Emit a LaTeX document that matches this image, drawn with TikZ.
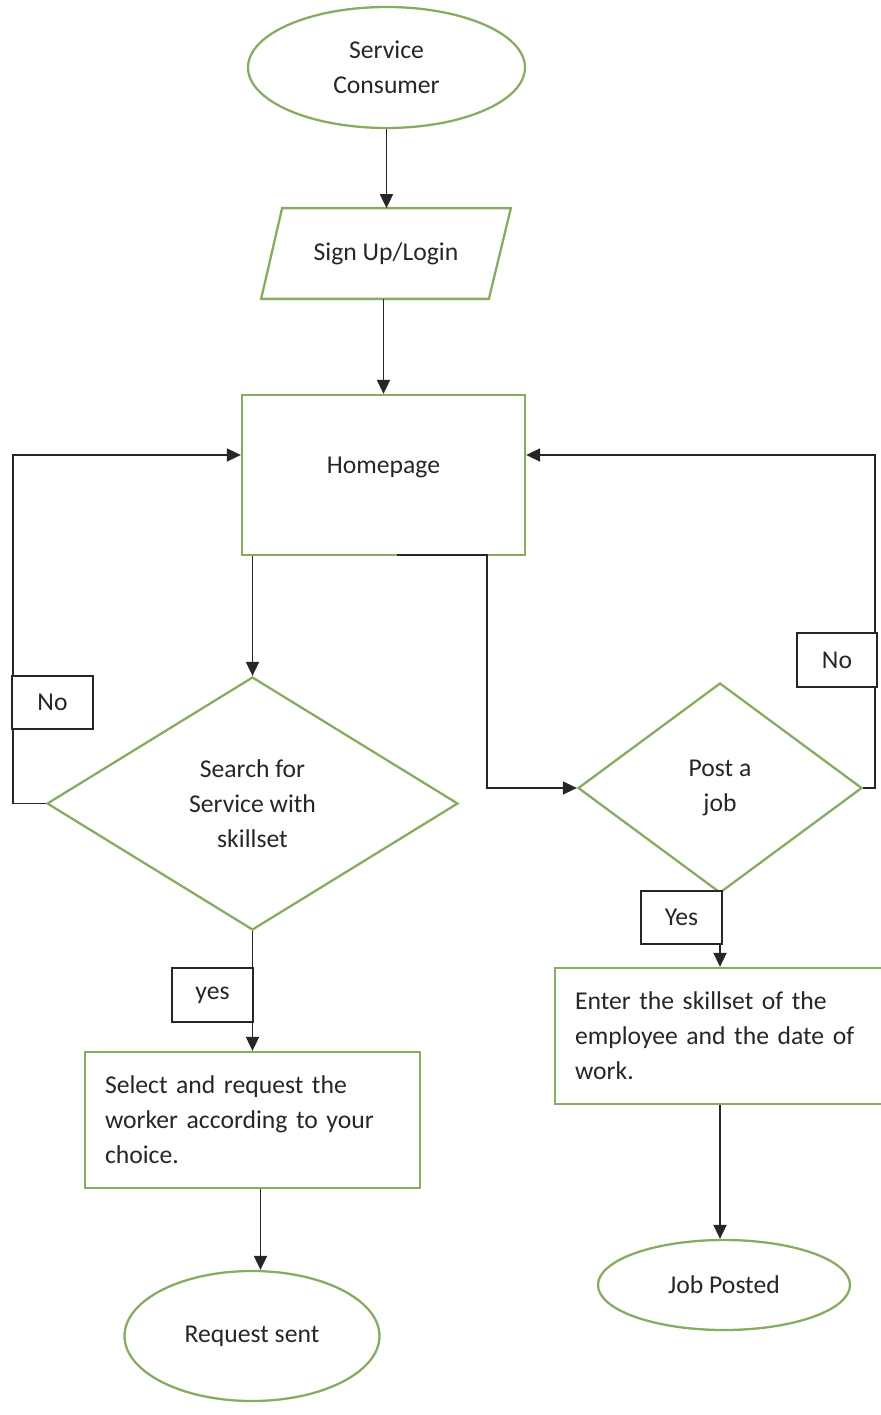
\documentclass[tikz,border=0pt]{standalone}
\usepackage{fontspec}
\setmainfont{Carlito}
\usepackage{tikz}
\usetikzlibrary{arrows.meta, positioning, shapes.geometric, calc}
\definecolor{khung}{RGB}{135,172,95}
\definecolor{chu}{RGB}{38,38,38}

\begin{document}
\begin{tikzpicture}[>={Triangle[length=1.4mm, width=1.3mm]}, line width=0.5pt,
    font=\fontsize{7.3}{10}\selectfont, text=chu,
    terminal/.style={ellipse, draw=khung, line width=0.65pt, align=center, inner sep=0pt},
    process/.style={rectangle, draw=khung, line width=0.65pt, inner sep=0pt},
    textbox/.style={rectangle, draw=khung, line width=0.65pt, align=left, inner xsep=0.2cm, inner ysep=0pt, minimum height=1.36cm},
    decision/.style={diamond, draw=khung, line width=0.65pt, align=center, inner sep=0pt},
    answer/.style={rectangle, draw=black!85, line width=0.6pt, inner sep=0pt, minimum width=0.81cm, minimum height=0.53cm},
    flow/.style={->, black!85}]
    \useasboundingbox (0,0) rectangle (8.81,-14.15);

    % Khoi bat dau va dang nhap
    \node at (3.865,-0.675) [terminal, minimum width=2.77cm, minimum height=1.21cm] (consumer) {Service\\Consumer};
    \node at (3.86,-2.535) [rectangle, minimum width=2.48cm, minimum height=0.89cm] (login) {Sign Up/Login};
    \draw[khung, line width=0.65pt] (login.south west) -- ([xshift=-0.22cm]login.south east)
        -- (login.north east) -- ([xshift=0.21cm]login.north west) -- cycle;

    % Trang chu
    \node at (3.835,-4.75) [process, minimum width=2.83cm, minimum height=1.60cm, text depth=0.2cm] (home) {Homepage};

    % Hai nhanh quyet dinh
    \node at (2.525,-8.035) [decision, minimum width=4.11cm, minimum height=2.53cm] (search) {Search for\\Service with\\skillset};
    \node at (7.20,-7.88) [decision, minimum width=2.84cm, minimum height=2.10cm] (post) {Post a\\job};

    % Cac buoc xu ly
    \node at (2.525,-11.20) [textbox, text width=2.95cm] (select) {Select and request the\\worker according to your\\choice.};
    \node at (7.225,-10.36) [textbox, text width=2.95cm] (enter) {Enter the skillset of the\\employee and the date of\\work.};

    % Ket thuc
    \node at (2.52,-13.36) [terminal, minimum width=2.55cm, minimum height=1.30cm] (request) {Request sent};
    \node at (7.24,-12.85) [terminal, minimum width=2.52cm, minimum height=0.90cm] (jobposted) {Job Posted};

    % Mui ten chinh
    \draw[flow] (consumer.south) -- (consumer.south |- login.north);
    \draw[flow] (login.south -| home.north) -- (home.north);
    \draw[flow] (home.south -| search.north) -- (search.north);
    \coordinate (hbL) at (3.97,-5.55);
    \coordinate (hbR) at (4.87,-5.55);
    \draw[flow] (hbL) -- (hbR) |- (post.west);
    \draw[flow] (search.south) -- (search.south |- select.north);
    \draw[flow] ([xshift=0.08cm]select.south) -- ([xshift=0.08cm]select.south |- request.north);
    \draw[flow] (post.south) -- (post.south |- enter.north);
    \draw[flow] (enter.south -| post.south) -- (post.south |- jobposted.north);

    % Vong lap "No"
    \coordinate (loopL) at (0.13,-4.55);
    \coordinate (loopR) at (8.75,-4.55);
    \draw[flow] (search.west) -| (loopL) -- ([yshift=0.2cm]home.west);
    \draw[flow] (post.east) -| (loopR) -- ([yshift=0.2cm]home.east);

    % Nhan tra loi
    \node at (0.525,-7.025) [answer, fill=white] (noL) {No};
    \node at (8.37,-6.60) [answer, fill=white, minimum width=0.80cm, minimum height=0.54cm] (noR) {No};
    \node at (2.125,-9.95) [answer, fill=white, minimum height=0.54cm] (yesL) {yes};
    \node at (6.815,-9.175) [answer, fill=white] (yesR) {Yes};
\end{tikzpicture}
\end{document}
